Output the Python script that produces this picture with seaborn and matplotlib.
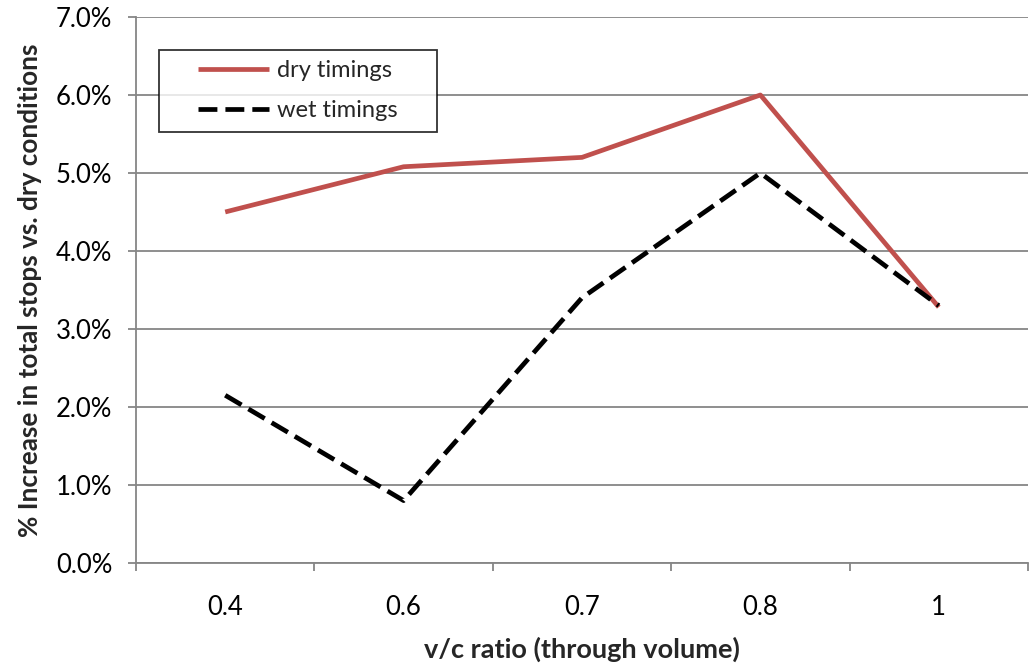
import pandas as pd
import numpy as np
import matplotlib.pyplot as plt
import matplotlib.ticker as mticker
import seaborn as sns

# data
vc_ratio = ['0.4', '0.6', '0.7', '0.8', '1']
dry_timings = [4.50, 5.08, 5.20, 6.00, 3.28]
wet_timings = [2.15, 0.80, 3.40, 5.00, 3.30]

df = pd.DataFrame({
    'vc': vc_ratio * 2,
    'pct': dry_timings + wet_timings,
    'series': ['dry timings'] * len(vc_ratio) + ['wet timings'] * len(vc_ratio),
})
df['pos'] = df['vc'].map({v: i for i, v in enumerate(vc_ratio)})

sns.set_theme(style="white")
plt.rcParams['font.family'] = ['Lato', 'DejaVu Sans']

fig = plt.figure(figsize=(10.29, 6.66), dpi=100)
ax = fig.add_axes([0.1322, 0.1547, 0.8668, 0.8198])

grid_col = '#868686'

sns.lineplot(
    data=df, x='pos', y='pct', hue='series', style='series',
    palette={'dry timings': '#C0504D', 'wet timings': 'black'},
    dashes={'dry timings': '', 'wet timings': (4, 1.7)},
    ax=ax, legend=True,
)
for line in ax.lines:
    line.set_linewidth(3.4)
    line.set_solid_capstyle('butt')

ax.set_xlim(-0.5, len(vc_ratio) - 0.5)
ax.set_ylim(0, 7)
ax.yaxis.set_major_locator(mticker.MultipleLocator(1))
ax.yaxis.set_major_formatter(mticker.FuncFormatter(lambda v, p: f"{v:.1f}%"))
ax.set_xticks(range(len(vc_ratio)))
ax.set_xticklabels(vc_ratio)
ax.xaxis.set_minor_locator(mticker.FixedLocator(np.arange(-0.5, len(vc_ratio), 1.0)))

ax.grid(axis='y', color=grid_col, linewidth=1.3)
ax.set_axisbelow(True)
for s in ['top', 'right']:
    ax.spines[s].set_visible(False)
for s in ['left', 'bottom']:
    ax.spines[s].set_color(grid_col)
    ax.spines[s].set_linewidth(1.3)

ax.tick_params(axis='y', which='major', left=True, length=6, width=1.3, color=grid_col,
               labelsize=18.5, labelcolor='black', pad=11)
ax.tick_params(axis='x', which='major', bottom=False, labelsize=18.5, labelcolor='black', pad=17)
ax.tick_params(axis='x', which='minor', bottom=True, length=6, width=1.3, color=grid_col)

ax.set_xlabel('v/c ratio (through volume)', fontsize=19.5, fontweight='bold', labelpad=12)
ax.set_ylabel('% Increase in total stops vs. dry conditions', fontsize=18.8,
              fontweight='bold', labelpad=10)

# legend: frame padded sideways only, like the Excel box
leg = ax.legend(loc='upper left', bbox_to_anchor=(0.058, 0.94), borderaxespad=0,
                fontsize=17, frameon=True, fancybox=False, edgecolor='black',
                handlelength=3.0, handletextpad=0.35, borderpad=0.45, labelspacing=0.8)
frame = leg.get_frame()
frame.set_linewidth(1.3)
frame.set_boxstyle('square', pad=1.2)
frame.set_mutation_aspect(0.001)
for h in leg.get_lines():
    h.set_linewidth(3.4)

plt.savefig('out.png', dpi=100)
